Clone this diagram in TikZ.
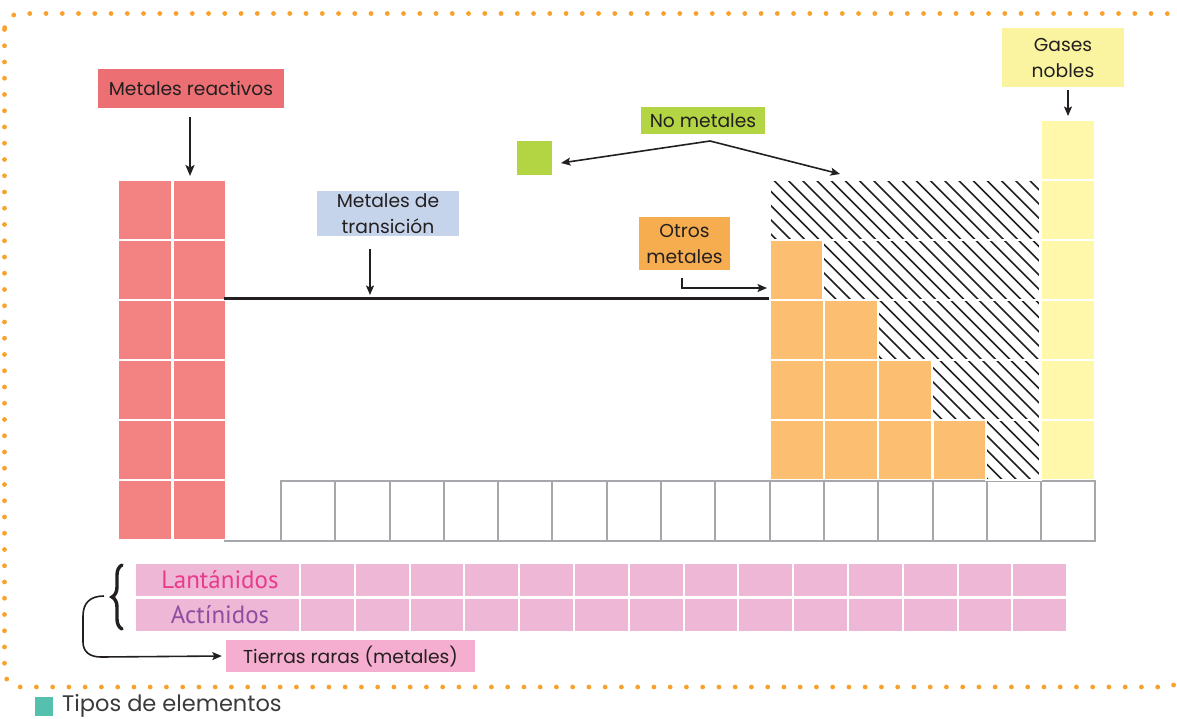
\documentclass[tikz,border=0pt]{standalone}
\usepackage{fontspec}
\setmainfont{Poppins}
\newfontfamily\ptsans{PT Sans}
\usetikzlibrary{arrows.meta,decorations.pathreplacing}
\definecolor{ink}{HTML}{231F20}
\definecolor{cred}{HTML}{F28382}
\definecolor{cmr}{HTML}{EC6F73}
\definecolor{cmt}{HTML}{C6D4EB}
\definecolor{cgreen}{HTML}{B3D443}
\definecolor{com}{HTML}{F6AD4F}
\definecolor{corange}{HTML}{FCBF72}
\definecolor{cgn}{HTML}{FAF4A0}
\definecolor{cyellow}{HTML}{FFF7A9}
\definecolor{cpink}{HTML}{EDB7D5}
\definecolor{ctr}{HTML}{F5AED0}
\definecolor{clan}{HTML}{EA3A8C}
\definecolor{cact}{HTML}{8F4CA1}
\definecolor{cteal}{HTML}{55C0AE}
\definecolor{cdot}{HTML}{F8A12C}
\definecolor{cgray}{HTML}{A6A7AA}
\definecolor{ccap}{HTML}{3B3B3B}
\newcommand\pcell[3]{\fill[#3] ({118+54.3*#1+1.2},{120+60*#2+1.2}) rectangle ++(51.9,57.6);}
\begin{document}
\begin{tikzpicture}[x=1pt,y=-1pt,
  lbl/.style={inner sep=0pt, align=center, text=ink, font=\fontsize{18.7}{26}\selectfont},
  arr/.style={draw=ink, line width=1.6pt, -{Stealth[length=9.5pt,width=8pt,inset=2pt]}},
  arrbig/.style={draw=ink, line width=2.2pt, -{Stealth[length=11pt,width=9pt,inset=2.5pt]}},
  hatchline/.style={draw=ink, line width=1.6pt},
  gapline/.style={draw=white, line width=2.6pt},
  graycell/.style={draw=cgray, line width=2pt},
  rowlabel/.style={font=\ptsans\fontsize{25}{25}\selectfont, inner sep=0pt}
]
\useasboundingbox (0,0) rectangle (1177,718);
% dotted frame
\draw[cdot, line width=4.8pt, line cap=round, dash pattern=on 0pt off 16.25pt, rounded corners=16pt] (4.5,13.5) rectangle (1182,687);

% cells
\foreach \r in {1,...,6}{\pcell{0}{\r}{cred}\pcell{1}{\r}{cred}}
\foreach \r in {0,...,5}{\pcell{17}{\r}{cyellow}}
\foreach \r in {2,...,5}{\pcell{12}{\r}{corange}}
\foreach \r in {3,...,5}{\pcell{13}{\r}{corange}}
\foreach \r in {4,...,5}{\pcell{14}{\r}{corange}}
\pcell{15}{5}{corange}
\foreach \c in {3,...,17}{\draw[graycell] ({118+54.3*\c},481) rectangle ++(54.3,60);}
\draw[graycell] (224,541) -- (281,541);

% hatched (non-metals)
\begin{scope}
\clip (769.5,180) -- (1040.5,180) -- (1040.5,480) -- (986,480) -- (986,420) -- (932,420) -- (932,360) -- (878,360) -- (878,300) -- (823,300) -- (823,240) -- (769.5,240) -- cycle;
\foreach \a in {0,...,30}{\draw[hatchline] ({650+14.2*\a},170) -- ++(330,330);}
\end{scope}
\draw[gapline] (769.5,180) -- (1040.5,180) -- (1040.5,480) -- (986,480) -- (986,420) -- (932,420) -- (932,360) -- (878,360) -- (878,300) -- (823,300) -- (823,240) -- (769.5,240) -- cycle;
\foreach \y in {240,300,360,420}{\draw[gapline] (769,\y) -- (1041,\y);}

% transition metals line
\draw[ink, line width=3pt] (224,298.5) -- (769,298.5);

% lanthanides / actinides
\fill[cpink] (136,564) rectangle (299,596);
\fill[cpink] (136,598.5) rectangle (299,630.5);
\foreach \k in {0,...,13}{
  \fill[cpink] ({300+54.8*\k+1},564) rectangle ++(52.8,32);
  \fill[cpink] ({300+54.8*\k+1},598.5) rectangle ++(52.8,32);
}
\node[rowlabel, text=clan] (lan) at (220,580) {Lantánidos};
\node[rowlabel, text=cact] (act) at (220,614.5) {Actínidos};

% labels
\node[lbl, fill=cmr, minimum width=186pt, minimum height=39pt] (mr) at (191,88.5) {Metales reactivos};
\node[lbl, fill=cmt, minimum width=142pt, minimum height=45pt] (mt) at (388,213.5) {Metales de\\transición};
\node[lbl, fill=cgreen, minimum width=124pt, minimum height=27pt] (nm) at (703,120.5) {No metales};
\node[lbl, fill=com, minimum width=91pt, minimum height=53pt] (om) at (684.5,243.5) {Otros\\metales};
\node[lbl, fill=cgn, minimum width=122pt, minimum height=59pt] (gn) at (1063,57.5) {Gases\\nobles};
\node[lbl, fill=ctr, minimum width=249pt, minimum height=32pt] (tr) at (350.5,656) {Tierras raras (metales)};
\node[fill=cgreen, inner sep=0pt, minimum width=35pt, minimum height=34pt] (gsq) at (534.5,158) {};

% connector end points
\coordinate (mrA) at (190,117);
\coordinate (mrB) at (190,176);
\coordinate (mtA) at (370,249);
\coordinate (mtB) at (370,295);
\coordinate (omA) at (682,278);
\coordinate (omB) at (767,288);
\coordinate (gnA) at (1068,90);
\coordinate (gnB) at (1068,116);
\coordinate (nmA) at (710,141);
\coordinate (nmL) at (561,163);
\coordinate (nmR) at (840,174);
\coordinate (brc) at (104,596);

\draw[arrbig] (mrA) -- (mrB);
\draw[arr] (mtA) -- (mtB);
\draw[arr] (omA) |- (omB);
\draw[arr] (gnA) -- (gnB);
\draw[arr] (nmA) -- (nmL);
\draw[arr] (nmA) -- (nmR);

% brace and curved arrow
\draw[ink, line width=3.4pt, line cap=round, decorate, decoration={brace, amplitude=10pt}] (122,629) -- (122,565);
\draw[arr] (brc) .. controls (90,596) and (83,603) .. (83,616) -- (83,642) .. controls (83,652) and (90,657) .. (101,657) -- ([xshift=-4pt]tr.west);

% caption
\fill[cteal] (35,697) rectangle (53,716);
\node[anchor=base west, inner sep=0pt, text=ccap, font=\fontsize{22.5}{22.5}\selectfont] (cap) at (62,711.5) {Tipos de elementos};
\end{tikzpicture}
\end{document}
